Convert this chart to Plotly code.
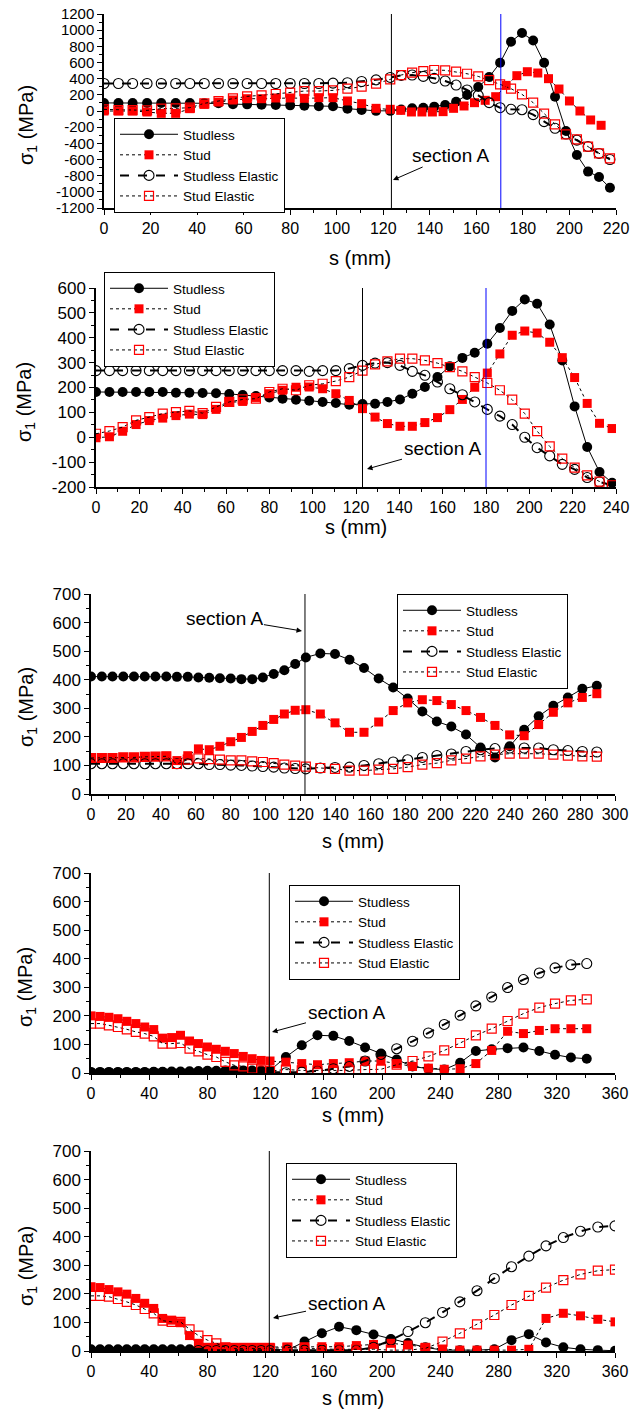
import plotly.graph_objects as go

# ------------------------------------------------------------------
# Data: arc-length position s (mm) and principal stress sigma_1 (MPa)
# ------------------------------------------------------------------
S_LEFT = [0.0, 6.2, 12.3, 18.5, 24.6, 30.8, 36.9, 43.1, 49.2, 55.4, 61.5,
          67.7, 73.8, 80.0, 86.1, 92.3, 98.4, 104.6, 110.7, 116.9, 123.0]

# panel 1
P1_S_RIGHT = [127.7, 132.4, 137.2, 141.9, 146.6, 151.3, 156.0, 160.8, 165.5, 170.2,
              174.9, 179.6, 184.4, 189.1, 193.8, 198.5, 203.2, 208.0, 212.7, 217.4]
P1_S_RIGHT_STUD = [127.5, 132.1, 136.6, 141.1, 145.7, 150.2, 154.7, 159.2, 163.8, 168.3,
                   172.8, 177.4, 181.9, 186.4, 191.0, 195.5, 200.0, 204.5, 209.1, 213.6]
P1_STUDLESS = [100, 100, 100, 100, 100, 100, 100, 97, 95, 85, 82, 78, 74, 70, 64, 58, 58, 29, 12, 2, 2,
               18, 33, 41, 54, 74, 115, 198, 297, 420, 597, 857, 965, 873, 597, 177, -247, -544, -750, -816, -950]
P1_STUD = [0, 0, 0, -12, -29, -29, 29, 82, 111, 136, 152, 152, 161, 161, 157, 165, 165, 124, 91, 33, 21,
           8, -12, -12, -12, -8, 33, 62, 103, 132, 177, 317, 437, 486, 470, 400, 272, 124, 0, -111, -177]
P1_STUDLESS_EL = [340, 340, 340, 340, 340, 340, 340, 340, 340, 340, 340, 340, 340, 340, 340, 340, 345, 350, 365, 385, 415,
                  440, 445, 428, 404, 371, 321, 260, 194, 103, 41, 21, 16, -45, -132, -214, -285, -360, -440, -525, -600]
P1_STUD_EL = [20, 12, 12, 8, 29, 33, 41, 95, 124, 156, 181, 194, 210, 227, 247, 247, 255, 276, 301, 338, 391,
              445, 474, 494, 507, 503, 486, 461, 428, 383, 330, 276, 206, 103, -33, -165, -288, -350, -441, -523, -585]
P1_Y_TICKS = [-1200, -1000, -800, -600, -400, -200, 0, 200, 400, 600, 800, 1000, 1200]
P1_Y_LABELS = ["-1200", "-1000", "-800", "-600", "-400", "-200", "0",
               "200", "400", "600", "800", "1000", "1200"]

# panel 2
P2_S_RIGHT = [128.8, 134.5, 140.3, 146.0, 151.8, 157.6, 163.3, 169.1, 174.8, 180.6,
              186.4, 192.1, 197.9, 203.6, 209.4, 215.2, 220.9, 226.7, 232.4, 238.2]
P2_STUDLESS = [182, 182, 182, 182, 182, 182, 179, 179, 178, 177, 174, 170, 166, 160, 155, 151, 147, 142, 138, 131, 134,
               135, 142, 152, 175, 202, 242, 285, 319, 340, 376, 439, 508, 554, 537, 453, 309, 124, -39, -140, -183]
P2_STUD = [-2, 2, 24, 51, 67, 77, 87, 93, 91, 112, 140, 144, 160, 175, 189, 201, 202, 195, 175, 148, 115,
           81, 55, 44, 44, 59, 79, 111, 152, 201, 258, 335, 410, 427, 419, 382, 320, 240, 136, 56, 35]
P2_STUDLESS_EL = [268, 268, 268, 268, 268, 268, 268, 268, 268, 268, 268, 268, 268, 268, 268, 268, 265, 268, 268, 276, 289,
                  298, 300, 289, 265, 249, 222, 195, 171, 142, 112, 85, 51, 0, -42, -75, -109, -129, -162, -180, -193]
P2_STUD_EL = [14, 25, 41, 68, 81, 95, 101, 106, 97, 122, 142, 152, 155, 182, 195, 189, 209, 215, 226, 242, 268,
              293, 305, 316, 316, 309, 298, 282, 265, 242, 218, 189, 151, 95, 25, -37, -86, -122, -153, -178, -193]
P2_Y_TICKS = [-200, -100, 0, 100, 200, 300, 400, 500, 600]
P2_Y_LABELS = ["-200", "-100", "0", "100", "200", "300", "400", "500", "600"]

# panel 3
P3_S_RIGHT = [131.3, 139.7, 148.0, 156.3, 164.7, 173.0, 181.3, 189.7, 198.0, 206.3,
              214.7, 223.0, 231.3, 239.7, 248.0, 256.3, 264.7, 273.0, 281.3, 289.6]
P3_STUDLESS = [411, 411, 411, 411, 411, 411, 411, 411, 410, 410, 408, 407, 405, 404, 402, 402, 408, 420, 433, 455, 478,
               492, 490, 470, 441, 404, 373, 334, 289, 254, 236, 208, 163, 128, 167, 225, 272, 309, 338, 368, 379]
P3_STUD = [126, 126, 126, 128, 128, 130, 131, 132, 117, 134, 158, 155, 167, 183, 198, 219, 240, 261, 280, 293, 295,
           280, 249, 216, 216, 252, 292, 319, 330, 327, 313, 292, 268, 240, 207, 204, 243, 286, 319, 338, 351]
P3_STUDLESS_EL = [106, 106, 106, 106, 106, 106, 106, 106, 106, 106, 106, 103, 103, 101, 100, 98, 96, 94, 91, 89, 88,
                  91, 93, 94, 100, 106, 112, 120, 128, 135, 140, 149, 155, 159, 161, 161, 161, 155, 152, 149, 147]
P3_STUD_EL = [126, 126, 126, 128, 128, 130, 131, 132, 105, 120, 125, 122, 120, 118, 118, 114, 112, 108, 103, 99, 96,
              91, 88, 82, 82, 85, 88, 94, 103, 108, 118, 124, 132, 138, 141, 141, 141, 138, 134, 132, 131]

# panel 4
P4_S_RIGHT = [133.9, 144.8, 155.6, 166.5, 177.4, 188.3, 199.2, 210.0, 220.9, 231.8,
              242.7, 253.6, 264.4, 275.3, 286.2, 297.1, 308.0, 318.8, 329.7, 340.6]
P4_STUDLESS = [3, 3, 3, 3, 3, 3, 3, 4, 4, 5, 5, 6, 7, 8, 8, 9, 9, 9, 9, 9, 9,
               56, 97, 132, 130, 112, 89, 68, 47, 23, 15, 12, 36, 77, 83, 87, 89, 77, 64, 54, 50]
P4_STUD = [200, 198, 195, 190, 181, 173, 161, 152, 122, 124, 132, 112, 103, 91, 83, 76, 68, 58, 50, 44, 42,
           38, 33, 29, 33, 36, 42, 42, 33, 23, 17, 13, 15, 33, 79, 146, 138, 149, 155, 155, 155]
P4_STUDLESS_EL = [2, 2, 2, 2, 2, 2, 2, 2, 2, 2, 2, 2, 2, 2, 2, 2, 2, 2, 2, 2, 2,
                  1, 3, 7, 15, 23, 42, 65, 85, 111, 140, 170, 202, 235, 266, 299, 327, 350, 368, 379, 383]
P4_STUD_EL = [173, 173, 167, 161, 153, 144, 138, 128, 103, 103, 105, 85, 76, 64, 56, 39, 27, 23, 15, 9, 7,
              12, 9, 9, 9, 9, 12, 13, 29, 42, 58, 79, 105, 132, 155, 182, 208, 229, 243, 254, 258]

# panel 5
P5_S_RIGHT = [134.9, 146.7, 158.6, 170.4, 182.3, 194.1, 206.0, 217.8, 229.7, 241.5,
              253.4, 265.2, 277.1, 288.9, 300.8, 312.6, 324.5, 336.3, 348.2, 360.0]
P5_STUDLESS = [6, 6, 6, 6, 6, 6, 6, 6, 6, 6, 6, 6, 6, 6, 6, 6, 6, 6, 6, 6, 6,
               3, 33, 62, 85, 73, 58, 42, 28, 13, 3, 3, 3, 6, 38, 59, 30, 13, 6, 3, 1]
P5_STUD = [225, 222, 215, 207, 199, 184, 167, 149, 114, 108, 99, 54, 27, 13, 13, 13, 13, 13, 13, 13, 13,
           13, 15, 15, 15, 19, 23, 27, 21, 13, 7, 3, 3, 3, 3, 6, 114, 132, 123, 111, 102]
P5_STUDLESS_EL = [2, 2, 2, 2, 2, 2, 2, 2, 2, 2, 2, 2, 2, 2, 2, 2, 2, 2, 2, 2, 2,
                  3, 3, 3, 3, 3, 13, 38, 68, 99, 135, 172, 211, 254, 295, 332, 368, 397, 419, 434, 438]
P5_STUD_EL = [193, 193, 190, 182, 172, 161, 147, 132, 106, 102, 102, 76, 54, 38, 27, 13, 9, 9, 9, 9, 9,
              12, 9, 7, 6, 6, 6, 3, 3, 9, 33, 62, 93, 126, 161, 193, 222, 248, 268, 281, 285]

SERIES_NAMES = ["Studless", "Stud", "Studless Elastic", "Stud Elastic"]

# section A position and extra reference line (mm)
SECTION_A = [123.5, 123.0, 122.5, 122.5, 122.5]
BLUE_LINE = [170.5, 180.0, None, None, None]

# ------------------------------------------------------------------
# Page geometry (pixels) and styles
# ------------------------------------------------------------------
W, H = 644, 1414
FONT = "Liberation Sans, Arial, sans-serif"

STYLE = {
    "Studless": dict(line=dict(color="black", width=1),
                     marker=dict(symbol="circle", size=10, color="black")),
    "Stud": dict(line=dict(color="black", width=1, dash="dot"),
                 marker=dict(symbol="square", size=9, color="#ff0000")),
    "Studless Elastic": dict(line=dict(color="black", width=2, dash="dash"),
                             marker=dict(symbol="circle-open", size=10, color="black",
                                         line=dict(width=1.1))),
    "Stud Elastic": dict(line=dict(color="black", width=1, dash="dot"),
                         marker=dict(symbol="square-open", size=9, color="#ff0000",
                                     line=dict(width=1.2))),
}

PANELS = [
    dict(box=(104, 616, 14, 208), xr=(0, 220), xd=20, xm=10, yr=(-1200, 1200), yd=200, ym=100,
         yticks=(P1_Y_TICKS, P1_Y_LABELS), ytf=15, xtf=16,
         x=[S_LEFT + P1_S_RIGHT, S_LEFT + P1_S_RIGHT_STUD, S_LEFT + P1_S_RIGHT, S_LEFT + P1_S_RIGHT],
         y=[P1_STUDLESS, P1_STUD, P1_STUDLESS_EL, P1_STUD_EL],
         legend=(114, 118), xtitle=(360, 258), ytitle=(27, 125),
         label=(450, 155), head=(393, 180)),
    dict(box=(96, 616, 288, 487), xr=(0, 240), xd=20, xm=10, yr=(-200, 600), yd=100, ym=50,
         yticks=(P2_Y_TICKS, P2_Y_LABELS), ytf=17, xtf=16,
         x=[S_LEFT + P2_S_RIGHT] * 4,
         y=[P2_STUDLESS, P2_STUD, P2_STUDLESS_EL, P2_STUD_EL],
         legend=(104, 272), xtitle=(356, 527), ytitle=(26, 402),
         label=(442, 448), head=(367, 469)),
    dict(box=(91, 615, 594, 794), xr=(0, 300), xd=20, xm=10, yr=(0, 700), yd=100, ym=50,
         yticks=None, ytf=17, xtf=16,
         x=[S_LEFT + P3_S_RIGHT] * 4,
         y=[P3_STUDLESS, P3_STUD, P3_STUDLESS_EL, P3_STUD_EL],
         legend=(397, 594), xtitle=(353, 841), ytitle=(27, 707),
         label=(224, 618), head=(302, 631)),
    dict(box=(91, 615, 873, 1073), xr=(0, 360), xd=40, xm=20, yr=(0, 700), yd=100, ym=50,
         yticks=None, ytf=17, xtf=16,
         x=[S_LEFT + P4_S_RIGHT] * 4,
         y=[P4_STUDLESS, P4_STUD, P4_STUDLESS_EL, P4_STUD_EL],
         legend=(289, 885), xtitle=(353, 1115), ytitle=(27, 987),
         label=(346, 1012), head=(272, 1032)),
    dict(box=(91, 615, 1151, 1351), xr=(0, 360), xd=40, xm=20, yr=(0, 700), yd=100, ym=50,
         yticks=None, ytf=17, xtf=16,
         x=[S_LEFT + P5_S_RIGHT] * 4,
         y=[P5_STUDLESS, P5_STUD, P5_STUDLESS_EL, P5_STUD_EL],
         legend=(286, 1163), xtitle=(353, 1398), ytitle=(27, 1266),
         label=(346, 1303), head=(273, 1318)),
]

fig = go.Figure()
layout = {}
shapes = []
annotations = []


def px_to_data(p, px, py):
    x0, x1, y0, y1 = p["box"]
    dx = p["xr"][0] + (px - x0) / (x1 - x0) * (p["xr"][1] - p["xr"][0])
    dy = p["yr"][1] - (py - y0) / (y1 - y0) * (p["yr"][1] - p["yr"][0])
    return dx, dy


for k, p in enumerate(PANELS, start=1):
    sx = "" if k == 1 else str(k)
    xa, ya = "x" + sx, "y" + sx
    xo, yo = "x" + str(k + 5), "y" + str(k + 5)
    leg = "legend" + sx

    for name, xs, ys in zip(SERIES_NAMES, p["x"], p["y"]):
        fig.add_trace(go.Scatter(x=xs, y=ys, name=name, mode="lines+markers",
                                 xaxis=xa, yaxis=ya, legend=leg, hoverinfo="skip",
                                 **STYLE[name]))

    x0, x1, y0, y1 = p["box"]
    dom_x = [x0 / W, x1 / W]
    dom_y = [1 - y1 / H, 1 - y0 / H]

    common = dict(showgrid=False, zeroline=False, showline=True, linecolor="black",
                  linewidth=1.5, tickcolor="black", tickwidth=1.2, automargin=False,
                  fixedrange=True)

    layout["xaxis" + sx] = dict(
        domain=dom_x, anchor=ya, range=list(p["xr"]), tickmode="linear", tick0=0,
        dtick=p["xd"], ticks="outside", ticklen=5,
        minor=dict(dtick=p["xm"], tick0=0, ticks="outside", ticklen=3,
                   tickcolor="black", tickwidth=1),
        tickfont=dict(family=FONT, size=p["xtf"], color="black"), **common)
    yax = dict(
        domain=dom_y, anchor=xa, range=list(p["yr"]), ticks="outside", ticklen=5,
        minor=dict(dtick=p["ym"], tick0=p["yr"][0], ticks="outside", ticklen=3,
                   tickcolor="black", tickwidth=1),
        tickfont=dict(family=FONT, size=p["ytf"], color="black"), **common)
    if p["yticks"]:
        yax.update(tickmode="array", tickvals=p["yticks"][0], ticktext=p["yticks"][1])
    else:
        yax.update(tickmode="linear", tick0=0, dtick=p["yd"])
    layout["yaxis" + sx] = yax

    # mirrored axes with inward ticks on top and right
    layout["xaxis" + str(k + 5)] = dict(
        overlaying=xa, anchor=yo, side="top", range=list(p["xr"]), tickmode="linear",
        tick0=0, dtick=p["xd"], ticks="inside", ticklen=5, showticklabels=False,
        minor=dict(dtick=p["xm"], tick0=0, ticks="inside", ticklen=3,
                   tickcolor="black", tickwidth=1), **common)
    layout["yaxis" + str(k + 5)] = dict(
        overlaying=ya, anchor=xo, side="right", range=list(p["yr"]), tickmode="linear",
        tick0=p["yr"][0], dtick=p["yd"], ticks="inside", ticklen=5, showticklabels=False,
        minor=dict(dtick=p["ym"], tick0=p["yr"][0], ticks="inside", ticklen=3,
                   tickcolor="black", tickwidth=1), **common)

    lx, ly = p["legend"]
    layout[leg] = dict(x=lx / W, y=1 - ly / H, xanchor="left", yanchor="top",
                       bgcolor="white", bordercolor="black", borderwidth=1,
                       font=dict(family=FONT, size=13.5, color="black"),
                       itemwidth=58, tracegroupgap=0)

    # section A line (and the additional blue line)
    shapes.append(dict(type="line", xref=xa, yref=ya + " domain",
                       x0=SECTION_A[k - 1], x1=SECTION_A[k - 1], y0=0, y1=1,
                       line=dict(color="black", width=1)))
    if BLUE_LINE[k - 1] is not None:
        shapes.append(dict(type="line", xref=xa, yref=ya + " domain",
                           x0=BLUE_LINE[k - 1], x1=BLUE_LINE[k - 1], y0=0, y1=1,
                           line=dict(color="#0000ff", width=1)))

    # "section A" label with an arrow pointing at the section line
    lx_px, ly_px = p["label"]
    hx_px, hy_px = p["head"]
    hx, hy = px_to_data(p, hx_px, hy_px)
    annotations.append(dict(x=hx, y=hy, xref=xa, yref=ya, text="section A",
                            showarrow=True, ax=lx_px - hx_px, ay=ly_px - hy_px,
                            arrowhead=2, arrowsize=1.1, arrowwidth=1,
                            arrowcolor="black", standoff=0,
                            font=dict(family=FONT, size=19, color="black")))

    # axis titles
    cx, cy = p["xtitle"]
    annotations.append(dict(x=cx / W, y=1 - cy / H, xref="paper", yref="paper",
                            text="s (mm)", showarrow=False, xanchor="center",
                            yanchor="middle",
                            font=dict(family=FONT, size=20, color="black")))
    cx, cy = p["ytitle"]
    annotations.append(dict(x=cx / W, y=1 - cy / H, xref="paper", yref="paper",
                            text="σ<sub>1</sub> (MPa)", showarrow=False, textangle=-90,
                            xanchor="center", yanchor="middle",
                            font=dict(family=FONT, size=20, color="black")))

fig.update_layout(
    width=W, height=H, margin=dict(l=0, r=0, t=0, b=0),
    paper_bgcolor="white", plot_bgcolor="white", showlegend=True,
    shapes=shapes, annotations=annotations, **layout)

fig.write_html("out.html")
